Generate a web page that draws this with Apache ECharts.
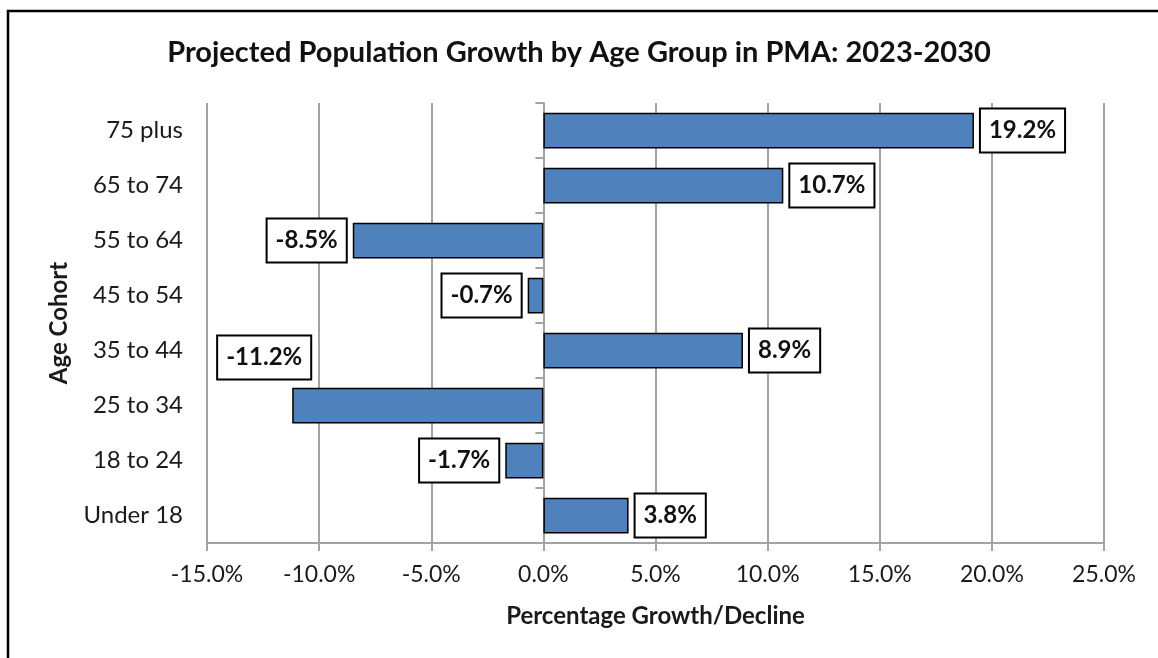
<!DOCTYPE html>
<html>
<head>
<meta charset="utf-8">
<title>Projected Population Growth by Age Group in PMA: 2023-2030</title>
<script src="https://cdn.jsdelivr.net/npm/echarts@6/dist/echarts.min.js"></script>
<style>
  html, body { margin: 0; padding: 0; background: #ffffff; }
  #chart { width: 1158px; height: 658px; }
</style>
</head>
<body>
<div id="chart"></div>
<script>
// Age cohorts, bottom to top on the category axis
const cohorts = ['Under 18', '18 to 24', '25 to 34', '35 to 44', '45 to 54', '55 to 64', '65 to 74', '75 plus'];
// Projected change 2023-2030, in percent
const growth = [3.8, -1.7, -11.2, 8.9, -0.7, -8.5, 10.7, 19.2];
// Value axis tick range, in percent
const axisMin = -15;
const axisMax = 25;
const axisStep = 5;

const FONT = 'Lato, "Open Sans", sans-serif';
const INK = '#1a1a1a';
const GRID_GRAY = '#a3a3a3';

const chart = echarts.init(document.getElementById('chart'), null, { renderer: 'canvas' });

// Bars with value boxes: right of positive bars, left of negative ones.
// The 25 to 34 box is nudged up and in so it clears the neighbouring bars.
const barData = growth.map((v, i) => {
  const item = {
    value: v,
    label: { position: v >= 0 ? 'right' : 'left' }
  };
  if (cohorts[i] === '25 to 34') {
    item.label.offset = [25, -48];
  }
  return item;
});

const option = {
  animation: false,
  backgroundColor: '#ffffff',
  textStyle: { fontFamily: FONT },
  title: {
    text: 'Projected Population Growth by Age Group in PMA: 2023-2030',
    left: 'center',
    top: 33,
    textStyle: { fontFamily: FONT, fontSize: 29, fontWeight: 'bold', color: '#111111' }
  },
  grid: { left: 207, right: 54, top: 103, bottom: 115, containLabel: false },
  xAxis: {
    type: 'value',
    min: axisMin,
    max: axisMax,
    interval: axisStep,
    name: 'Percentage Growth/Decline',
    nameLocation: 'middle',
    nameGap: 61,
    nameTextStyle: { fontFamily: FONT, fontSize: 24, fontWeight: 'bold', color: INK },
    axisLine: { show: true, onZero: false, lineStyle: { color: GRID_GRAY, width: 2 } },
    axisTick: { show: true, length: 8, lineStyle: { color: GRID_GRAY, width: 2 } },
    axisLabel: {
      margin: 20,
      fontFamily: FONT, fontSize: 23, color: INK,
      formatter: v => v.toFixed(1) + '%'
    },
    splitLine: { show: true, lineStyle: { color: GRID_GRAY, width: 2 } }
  },
  yAxis: [
    {
      // category names along the left edge of the plot
      type: 'category',
      data: cohorts,
      position: 'left',
      name: 'Age Cohort',
      nameLocation: 'middle',
      nameRotate: 90,
      nameGap: 136,
      nameTextStyle: { fontFamily: FONT, fontSize: 24, fontWeight: 'bold', color: INK },
      axisLine: { show: false, onZero: false },
      axisTick: { show: false },
      axisLabel: { margin: 24, fontFamily: FONT, fontSize: 24, color: INK },
      splitLine: { show: false }
    },
    {
      // spine drawn at 0% with boundary ticks
      type: 'category',
      data: cohorts,
      position: 'left',
      axisLine: { show: true, onZero: true, lineStyle: { color: GRID_GRAY, width: 2 } },
      axisTick: { show: true, length: 8, lineStyle: { color: GRID_GRAY, width: 2 } },
      axisLabel: { show: false },
      splitLine: { show: false }
    }
  ],
  series: [
    {
      type: 'bar',
      yAxisIndex: 0,
      data: barData,
      barCategoryGap: '35%',
      itemStyle: { color: '#4f81bd', borderColor: '#000000', borderWidth: 1.5 },
      label: {
        show: true,
        distance: 7,
        formatter: p => p.value.toFixed(1) + '%',
        fontFamily: FONT,
        fontSize: 24,
        fontWeight: 'bold',
        color: '#111111',
        lineHeight: 28,
        backgroundColor: '#ffffff',
        borderColor: '#000000',
        borderWidth: 2,
        padding: [8, 8, 6, 8]
      },
      z: 3
    }
  ],
  graphic: [
    // chart frame: left and top edges
    { type: 'line', shape: { x1: 8, y1: 10, x2: 8, y2: 658 }, style: { stroke: '#000000', lineWidth: 2.5 }, silent: true },
    { type: 'line', shape: { x1: 7, y1: 11, x2: 1158, y2: 11 }, style: { stroke: '#000000', lineWidth: 2.5 }, silent: true }
  ]
};

chart.setOption(option);
</script>
</body>
</html>
